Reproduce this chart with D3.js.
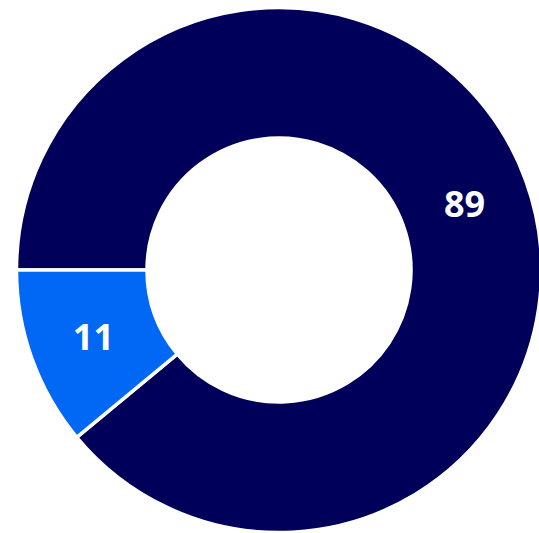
<!DOCTYPE html>
<html>
<head>
<meta charset="utf-8">
<script src="https://cdn.jsdelivr.net/npm/d3@7"></script>
<style>
  html, body { margin: 0; padding: 0; background: #ffffff; }
  svg { display: block; }
</style>
</head>
<body>
<svg id="chart" width="539" height="533"></svg>
<script>
const categories = ["A", "B"];
const values = [89, 11];
const colors = ["#00005A", "#0068F5"];

const svg = d3.select("#chart");
const cx = 279, cy = 270;
const outerR = 262.5, innerR = 132;

const pie = d3.pie()
  .value(d => d.value)
  .sort(null)
  .startAngle(-Math.PI / 2)
  .endAngle(3 * Math.PI / 2);

const data = categories.map((c, i) => ({ category: c, value: values[i], color: colors[i] }));
const arcs = pie(data);

const arc = d3.arc().innerRadius(innerR).outerRadius(outerR);

const g = svg.append("g").attr("transform", `translate(${cx},${cy})`);

g.selectAll("path.slice")
  .data(arcs)
  .join("path")
  .attr("class", "slice")
  .attr("d", arc)
  .attr("fill", d => d.data.color)
  .attr("stroke", "#ffffff")
  .attr("stroke-width", 3.5)
  .attr("stroke-linejoin", "miter");

g.selectAll("text.label")
  .data(arcs)
  .join("text")
  .attr("class", "label")
  .attr("transform", d => `translate(${arc.centroid(d)})`)
  .attr("text-anchor", "middle")
  .attr("dominant-baseline", "central")
  .attr("fill", "#ffffff")
  .attr("font-family", "'Open Sans', 'Liberation Sans', sans-serif")
  .attr("font-weight", "bold")
  .attr("font-size", 36)
  .text(d => d.data.value);
</script>
</body>
</html>
